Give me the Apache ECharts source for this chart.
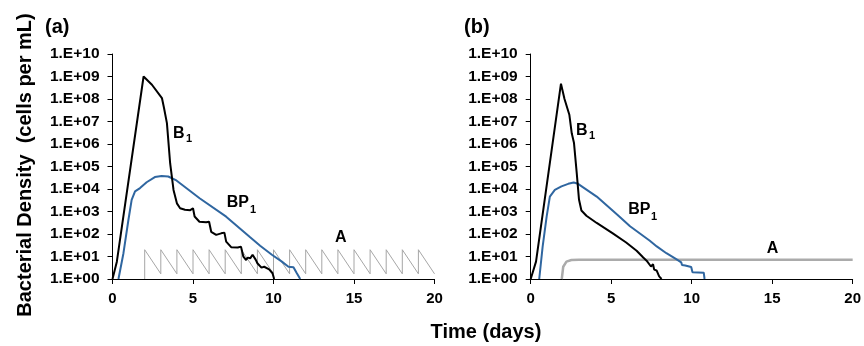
<!DOCTYPE html>
<html>
<head>
<meta charset="utf-8">
<script src="https://cdn.jsdelivr.net/npm/echarts@6/dist/echarts.min.js"></script>
<style>
  html, body { margin: 0; padding: 0; background: #fff; }
  #main { width: 864px; height: 346px; }
</style>
</head>
<body>
<div id="main"></div>
<script>
// ---- data: [day, cells per mL] ----
// panel (a)
var b1A = [
    [0, 1], [0.27, 5.9], [1.93, 1.0e9], [2.45, 4.3e8], [3.07, 1.1e8], [3.2, 4.0e7],
    [3.38, 8.5e6], [3.58, 1.4e5], [3.79, 9.1e3], [4.0, 2.3e3], [4.2, 1.4e3], [4.5, 1.2e3],
    [4.83, 1.15e3], [5.0, 1.4e3], [5.1, 6.0e2], [5.4, 3.5e2], [5.82, 3.3e2], [6.0, 3.5e2],
    [6.13, 1.25e2], [6.44, 91], [6.75, 107], [6.95, 115], [7.06, 46], [7.37, 26],
    [7.78, 25], [7.98, 27.5], [8.13, 9.8], [8.3, 7], [8.4, 8.9], [8.55, 8.3], [8.7, 12],
    [8.9, 7.1], [9.0, 5], [9.1, 4.2], [9.25, 3.2], [9.42, 3.5], [9.73, 2.7], [9.94, 1.8],
    [10.04, 1]
];
var bp1A = [
    [0.37, 1], [0.68, 14], [0.99, 430], [1.19, 3.3e3], [1.4, 7.8e3], [1.71, 1.1e4],
    [2.12, 2.0e4], [2.63, 3.4e4], [3.05, 3.8e4], [3.46, 3.6e4], [3.97, 2.4e4],
    [5.41, 3.9e3], [7.06, 5.9e2], [8.55, 71], [9.17, 30], [9.9, 12], [10.52, 5.9],
    [10.93, 3.5], [11.24, 3.3], [11.45, 1.8], [11.66, 1]
];
var antiA = [
    [2, 1], [2, 20], [3, 1.7], [3, 20], [4, 1.7], [4, 20], [5, 1.7], [5, 20],
    [6, 1.7], [6, 20], [7, 1.7], [7, 20], [8, 1.7], [8, 20], [9, 1.7], [9, 20],
    [10, 1.7], [10, 20], [11, 1.7], [11, 20], [12, 1.7], [12, 20], [13, 1.7], [13, 20],
    [14, 1.7], [14, 20], [15, 1.7], [15, 20], [16, 1.7], [16, 20], [17, 1.7], [17, 20],
    [18, 1.7], [18, 20], [19, 1.7], [19, 20], [20, 1.7]
];
// panel (b)
var b1B = [
    [0, 1], [0.33, 5.9], [1.88, 4.8e8], [2.1, 1.0e8], [2.4, 2.0e7], [2.55, 3.0e6],
    [2.69, 1.1e6], [2.86, 5.1e4], [3.0, 3.4e3], [3.15, 1.1e3], [3.46, 6.5e2],
    [4.1, 3.1e2], [5.1, 107], [5.93, 42], [6.58, 18], [6.99, 9], [7.1, 10.5],
    [7.2, 6.5], [7.47, 3.6], [7.6, 4.5], [7.67, 2.6], [7.82, 2.4], [7.98, 1.3], [8.13, 1]
];
var bp1B = [
    [0.53, 1], [0.74, 27], [0.99, 590], [1.19, 4.6e3], [1.5, 9.1e3], [1.91, 1.3e4],
    [2.33, 1.7e4], [2.67, 1.95e4], [2.94, 1.7e4], [4.1, 4.6e3], [5.4, 7.0e2],
    [6.17, 2.2e2], [7.4, 50], [7.83, 28], [8.43, 14], [9.09, 7.2], [9.35, 5.5],
    [9.4, 4.2], [9.6, 4.0], [9.7, 3.4], [9.97, 3.4], [10.05, 2.0], [10.75, 1.9], [10.8, 1]
];
var antiB = [
    [1.93, 1], [2.02, 3.5], [2.22, 5.9], [2.53, 7.0], [3.0, 7.2], [20, 7.2]
];
var xTicks = [0, 20, 5];        // min, max, interval
var yRange = [1, 1e10];

var chart = echarts.init(document.getElementById('main'));
var FONT = '"Liberation Sans", Arial, sans-serif';

function yLabel(v) {
    var e = Math.round(Math.log(v) / Math.LN10);
    return '1.E+' + (e < 10 ? '0' + e : e);
}

function makeX(idx) {
    return {
        gridIndex: idx, type: 'value',
        min: xTicks[0], max: xTicks[1], interval: xTicks[2],
        axisLine: { lineStyle: { color: '#000', width: 1 } },
        axisTick: { show: true, length: 5, lineStyle: { color: '#000' } },
        axisLabel: { margin: 12, color: '#000', fontFamily: FONT, fontWeight: 'bold', fontSize: 15 },
        splitLine: { show: false }
    };
}
function makeY(idx) {
    return {
        gridIndex: idx, type: 'log', logBase: 10,
        min: yRange[0], max: yRange[1], interval: 1,
        axisLine: { show: true, lineStyle: { color: '#000', width: 1 } },
        axisTick: { show: true, length: 5, lineStyle: { color: '#000' } },
        axisLabel: { margin: 13, color: '#000', fontFamily: FONT, fontWeight: 'bold', fontSize: 15.5,
                     formatter: yLabel },
        minorTick: { show: false },
        splitLine: { show: false }
    };
}
function line(name, idx, data, color, width) {
    return {
        name: name, type: 'line', xAxisIndex: idx, yAxisIndex: idx,
        data: data, showSymbol: false, symbol: 'none', animation: false,
        lineStyle: { color: color, width: width }
    };
}

function txt(x, y, s, size) {
    return {
        type: 'text', x: x, y: y,
        style: { text: s, fill: '#000', font: 'bold ' + size + 'px ' + FONT,
                 textVerticalAlign: 'middle', verticalAlign: 'middle' }
    };
}

var option = {
    backgroundColor: '#fff',
    animation: false,
    grid: [
        { left: 112.5, top: 54, width: 322, height: 225 },
        { left: 530.7, top: 54, width: 322, height: 225 }
    ],
    xAxis: [makeX(0), makeX(1)],
    yAxis: [makeY(0), makeY(1)],
    series: [
        line('A', 0, antiA, '#a6a6a6', 1),
        line('BP1', 0, bp1A, '#2f66a0', 2),
        line('B1', 0, b1A, '#000', 2),
        line('A', 1, antiB, '#ababab', 2.5),
        line('BP1', 1, bp1B, '#2f66a0', 2),
        line('B1', 1, b1B, '#000', 2)
    ],
    graphic: [
        txt(45, 27, '(a)', 20),
        txt(464, 27, '(b)', 20),
        {
            type: 'text', x: 25, y: 165, rotation: Math.PI / 2,
            style: { text: 'Bacterial Density  (cells per mL)', fill: '#000',
                     font: 'bold 20px ' + FONT, align: 'center', verticalAlign: 'middle' }
        },
        {
            type: 'text', x: 486, y: 332,
            style: { text: 'Time (days)', fill: '#000', font: 'bold 20px ' + FONT,
                     align: 'center', verticalAlign: 'middle' }
        },
        txt(173, 134, 'B', 16), txt(186, 139, '1', 11),
        txt(226.7, 203, 'BP', 16), txt(250, 210, '1', 11),
        txt(335, 238, 'A', 16),
        txt(576, 131, 'B', 16), txt(589, 136, '1', 11),
        txt(628.3, 210, 'BP', 16), txt(651, 217, '1', 11),
        txt(766.7, 249, 'A', 16)
    ]
};
chart.setOption(option);
</script>
</body>
</html>
